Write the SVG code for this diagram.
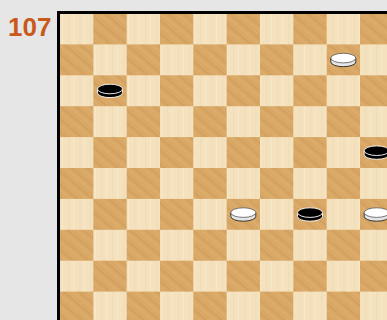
<svg xmlns="http://www.w3.org/2000/svg" width="387" height="320" viewBox="0 0 387 320">
<style>
.lt{fill:url(#lightwood)}
.dk{fill:url(#darkwood)}
.num{font-family:"Liberation Sans",Arial,sans-serif;font-weight:bold;font-size:26px;fill:#c9581c}
</style>
<defs>
<pattern id="lightwood" patternUnits="userSpaceOnUse" width="11" height="40">
<rect width="11" height="40" fill="#f4e2bf"/>
<rect x="2" width="1.5" height="40" fill="#ead4aa" opacity="0.35"/>
<rect x="7" width="1" height="40" fill="#fbeed6" opacity="0.5"/>
</pattern>
<pattern id="darkwood" patternUnits="userSpaceOnUse" width="10" height="10" patternTransform="rotate(40)">
<rect width="10" height="10" fill="#d9a866"/>
<rect y="2" width="10" height="1.5" fill="#ca9352" opacity="0.45"/>
<rect y="6.5" width="10" height="1" fill="#e2b679" opacity="0.5"/>
</pattern>
<g id="bpiece">
<path d="M-12.5,-1.8 v3.8 a12.5,4.8 0 0 0 25,0 v-3.8 z" fill="#000" stroke="#fff" stroke-width="0.9"/>
<ellipse cx="0" cy="-1.8" rx="12.5" ry="4.8" fill="#000" stroke="#fff" stroke-width="0.9"/>
</g>
<g id="wpiece">
<path d="M-12.5,-1.8 v3.8 a12.5,4.8 0 0 0 25,0 v-3.8 z" fill="#e6e6e6" stroke="#222" stroke-width="0.9"/>
<ellipse cx="0" cy="-1.8" rx="12.5" ry="4.8" fill="#fff" stroke="#555" stroke-width="0.8"/>
</g>
</defs>
<rect width="387" height="320" fill="#e6e6e6"/>
<text class="num" x="8" y="36">107</text>
<g id="board">
<rect class="lt" x="60" y="13.5" width="327" height="306.5"/>
<g id="dark-squares">
<rect class="dk" x="93.33" y="13.5" width="33.34" height="30.9"/>
<rect class="dk" x="160" y="13.5" width="33.34" height="30.9"/>
<rect class="dk" x="226.67" y="13.5" width="33.34" height="30.9"/>
<rect class="dk" x="293.33" y="13.5" width="33.34" height="30.9"/>
<rect class="dk" x="360" y="13.5" width="33.34" height="30.9"/>
<rect class="dk" x="60" y="44.4" width="33.34" height="30.9"/>
<rect class="dk" x="126.67" y="44.4" width="33.34" height="30.9"/>
<rect class="dk" x="193.33" y="44.4" width="33.34" height="30.9"/>
<rect class="dk" x="260" y="44.4" width="33.34" height="30.9"/>
<rect class="dk" x="326.67" y="44.4" width="33.34" height="30.9"/>
<rect class="dk" x="93.33" y="75.3" width="33.34" height="30.9"/>
<rect class="dk" x="160" y="75.3" width="33.34" height="30.9"/>
<rect class="dk" x="226.67" y="75.3" width="33.34" height="30.9"/>
<rect class="dk" x="293.33" y="75.3" width="33.34" height="30.9"/>
<rect class="dk" x="360" y="75.3" width="33.34" height="30.9"/>
<rect class="dk" x="60" y="106.2" width="33.34" height="30.9"/>
<rect class="dk" x="126.67" y="106.2" width="33.34" height="30.9"/>
<rect class="dk" x="193.33" y="106.2" width="33.34" height="30.9"/>
<rect class="dk" x="260" y="106.2" width="33.34" height="30.9"/>
<rect class="dk" x="326.67" y="106.2" width="33.34" height="30.9"/>
<rect class="dk" x="93.33" y="137.1" width="33.34" height="30.9"/>
<rect class="dk" x="160" y="137.1" width="33.34" height="30.9"/>
<rect class="dk" x="226.67" y="137.1" width="33.34" height="30.9"/>
<rect class="dk" x="293.33" y="137.1" width="33.34" height="30.9"/>
<rect class="dk" x="360" y="137.1" width="33.34" height="30.9"/>
<rect class="dk" x="60" y="168" width="33.34" height="30.9"/>
<rect class="dk" x="126.67" y="168" width="33.34" height="30.9"/>
<rect class="dk" x="193.33" y="168" width="33.34" height="30.9"/>
<rect class="dk" x="260" y="168" width="33.34" height="30.9"/>
<rect class="dk" x="326.67" y="168" width="33.34" height="30.9"/>
<rect class="dk" x="93.33" y="198.9" width="33.34" height="30.9"/>
<rect class="dk" x="160" y="198.9" width="33.34" height="30.9"/>
<rect class="dk" x="226.67" y="198.9" width="33.34" height="30.9"/>
<rect class="dk" x="293.33" y="198.9" width="33.34" height="30.9"/>
<rect class="dk" x="360" y="198.9" width="33.34" height="30.9"/>
<rect class="dk" x="60" y="229.8" width="33.34" height="30.9"/>
<rect class="dk" x="126.67" y="229.8" width="33.34" height="30.9"/>
<rect class="dk" x="193.33" y="229.8" width="33.34" height="30.9"/>
<rect class="dk" x="260" y="229.8" width="33.34" height="30.9"/>
<rect class="dk" x="326.67" y="229.8" width="33.34" height="30.9"/>
<rect class="dk" x="93.33" y="260.7" width="33.34" height="30.9"/>
<rect class="dk" x="160" y="260.7" width="33.34" height="30.9"/>
<rect class="dk" x="226.67" y="260.7" width="33.34" height="30.9"/>
<rect class="dk" x="293.33" y="260.7" width="33.34" height="30.9"/>
<rect class="dk" x="360" y="260.7" width="33.34" height="30.9"/>
<rect class="dk" x="60" y="291.6" width="33.34" height="30.9"/>
<rect class="dk" x="126.67" y="291.6" width="33.34" height="30.9"/>
<rect class="dk" x="193.33" y="291.6" width="33.34" height="30.9"/>
<rect class="dk" x="260" y="291.6" width="33.34" height="30.9"/>
<rect class="dk" x="326.67" y="291.6" width="33.34" height="30.9"/>
</g>
<path d="M58.5,320 V12.5 H387" fill="none" stroke="#000" stroke-width="3"/>
</g>
<g id="pieces">
<use id="b1" href="#bpiece" transform="translate(110,90.8)"/>
<use id="w1" href="#wpiece" transform="translate(343.3,59.9)"/>
<use id="b2" href="#bpiece" transform="translate(376.7,152.5)"/>
<use id="w2" href="#wpiece" transform="translate(243.3,214.4)"/>
<use id="b3" href="#bpiece" transform="translate(310,214.4)"/>
<use id="w3" href="#wpiece" transform="translate(376.7,214.4)"/>
</g>
</svg>
